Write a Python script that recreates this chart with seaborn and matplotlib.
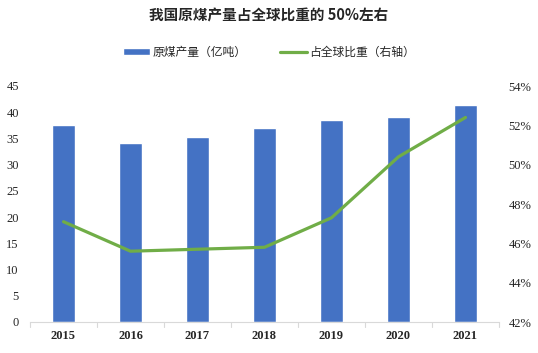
import matplotlib
matplotlib.use('Agg')
import matplotlib.pyplot as plt
import seaborn as sns
import pandas as pd
import numpy as np
from matplotlib.ticker import FuncFormatter

years = ['2015', '2016', '2017', '2018', '2019', '2020', '2021']
output = [37.5, 34.1, 35.2, 36.9, 38.5, 39.0, 41.3]
share = [47.1, 45.6, 45.7, 45.8, 47.3, 50.4, 52.4]

sns.set_style('white')
plt.rcParams['font.family'] = ['Liberation Serif', 'Noto Sans CJK SC']

df = pd.DataFrame({'year': years, 'output': output, 'share': share})

fig = plt.figure(figsize=(5.38, 3.53), dpi=100)
ax = fig.add_axes([30 / 538, 1 - 322 / 353, 469 / 538, 236 / 353])

sns.barplot(data=df, x='year', y='output', ax=ax, color='#4472C4',
            width=0.33, saturation=1, label='原煤产量（亿吨）')
ax.set_ylim(0, 45)
ax.set_yticks(np.arange(0, 46, 5))
ax.set_xlim(-0.5, 6.5)
ax.set_xlabel('')
ax.set_ylabel('')
for s in ['top', 'right', 'left']:
    ax.spines[s].set_visible(False)
ax.spines['bottom'].set_color('#d9d9d9')
ax.tick_params(axis='y', length=0, labelsize=9, pad=8)
ax.tick_params(axis='x', length=0, labelsize=9, pad=6)
for lb in ax.get_xticklabels():
    lb.set_fontweight('bold')
# small separator ticks between categories
for xb in np.arange(-0.5, 7, 1):
    ax.plot([xb, xb], [0, -0.9], color='#d9d9d9', lw=0.8, clip_on=False)

ax2 = ax.twinx()
sns.lineplot(x=np.arange(len(years)), y=share, ax=ax2, color='#70AD47',
             linewidth=2.3, label='占全球比重（右轴）')
ax2.set_ylim(42, 54)
ax2.set_yticks(np.arange(42, 55, 2))
ax2.yaxis.set_major_formatter(FuncFormatter(lambda v, p: f'{v:.0f}%'))
for s in ['top', 'right', 'left', 'bottom']:
    ax2.spines[s].set_visible(False)
ax2.tick_params(axis='y', length=0, labelsize=9, pad=7)

h1, l1 = ax.get_legend_handles_labels()
h2, l2 = ax2.get_legend_handles_labels()
if ax.get_legend() is not None:
    ax.get_legend().remove()
if ax2.get_legend() is not None:
    ax2.get_legend().remove()
fig.legend(h1 + h2, l1 + l2, loc='center', bbox_to_anchor=(0.5, 0.852), ncol=2,
           frameon=False, prop={'family': 'Noto Sans CJK SC', 'size': 8.5},
           handlelength=2.3, handleheight=0.45, columnspacing=2.8, handletextpad=0.2)

fig.text(0.5, 0.955, '我国原煤产量占全球比重的 50%左右', ha='center', va='center',
         fontsize=10.5, fontweight='bold', family=['Noto Sans CJK SC', 'DejaVu Sans'])

fig.savefig('out.png', dpi=100)
